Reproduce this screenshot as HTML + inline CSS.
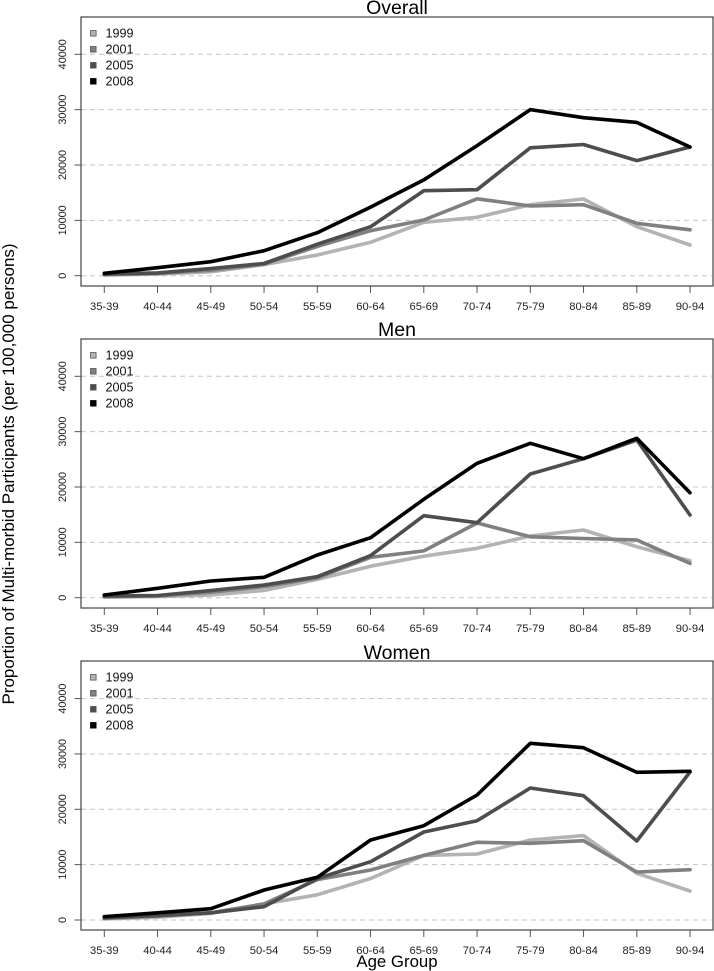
<!DOCTYPE html>
<html>
<head>
<meta charset="utf-8">
<style>
html,body{margin:0;padding:0;background:#fff;}
svg{display:block;}
text{font-family:"Liberation Sans",Arial,sans-serif;fill:#000;}
</style>
</head>
<body>
<svg width="714" height="971" viewBox="0 0 714 971" xmlns="http://www.w3.org/2000/svg">
<rect width="714" height="971" fill="#fff"/>
<g id="plots"></g>
<text transform="translate(14,474) rotate(-90)" text-anchor="middle" font-size="17">Proportion of Multi-morbid Participants (per 100,000 persons)</text>
<text x="397" y="967" text-anchor="middle" font-size="16.8">Age Group</text>
</svg>
<script>
(function(){
var NS="http://www.w3.org/2000/svg";
var g=document.getElementById("plots");
function el(n,a,t){var e=document.createElementNS(NS,n);for(var k in a)e.setAttribute(k,a[k]);if(t!==undefined)e.textContent=t;g.appendChild(e);return e;}
var labels=["35-39","40-44","45-49","50-54","55-59","60-64","65-69","70-74","75-79","80-84","85-89","90-94"];
var colors=["#b3b3b3","#808080","#4d4d4d","#000000"];
var years=["1999","2001","2005","2008"];
var panels=[
 {title:"Overall",top:17,y0:275.7,tb:14,
  d:[[100,300,700,2000,3740,6030,9650,10550,12830,13860,8850,5550],
     [200,400,1000,2100,5300,8130,10060,13900,12600,12830,9470,8300],
     [300,500,1300,2200,5700,8850,15360,15540,23100,23700,20800,23250],
     [430,1450,2530,4520,7770,12400,17300,23500,30000,28550,27700,23250]]},
 {title:"Men",top:339,y0:597.7,tb:336,
  d:[[100,200,500,1300,3300,5700,7500,8920,11150,12230,9220,6690],
     [200,300,1000,2000,3600,7300,8450,13500,11000,10700,10420,6200],
     [300,400,1300,2300,3800,7600,14820,13550,22350,25110,28500,14940],
     [490,1700,3020,3680,7710,10840,17780,24280,27900,25110,28800,18970]]},
 {title:"Women",top:661,y0:920,tb:659,
  d:[[200,500,1200,2900,4550,7500,11680,11920,14450,15240,8430,5240],
     [300,700,1300,2900,7300,9030,11680,14040,13850,14330,8670,9090],
     [400,800,1300,2400,7500,10540,15900,17940,23850,22460,14270,26740],
     [600,1300,2040,5420,7710,14450,17040,22580,31920,31130,26680,26860]]}
];
var L=81,R=713,S=0.005535;
function X(i){return 104.3+53.25*i;}
panels.forEach(function(p){
  var bottom=p.top+269;
  // grid lines
  for(var v=0;v<=40000;v+=10000){
    var y=p.y0-v*S;
    el("line",{x1:L,x2:R,y1:y,y2:y,stroke:"#c4c4c4","stroke-width":1,"stroke-dasharray":"5,4"});
    el("line",{x1:74.5,x2:L,y1:y,y2:y,stroke:"#555","stroke-width":1});
    el("text",{transform:"translate(66,"+y+") rotate(-90)","text-anchor":"middle","font-size":"10.8",style:"fill:#222"},String(v));
  }
  // x ticks
  for(var i=0;i<12;i++){
    el("line",{x1:X(i),x2:X(i),y1:bottom,y2:bottom+7,stroke:"#555","stroke-width":1});
    el("text",{x:X(i),y:bottom+24,"text-anchor":"middle","font-size":"11.2",style:"fill:#222"},labels[i]);
  }
  // series
  for(var s=0;s<4;s++){
    var pts=p.d[s].map(function(v,i){return X(i).toFixed(1)+","+(p.y0-v*S).toFixed(1);}).join(" ");
    el("polyline",{points:pts,fill:"none",stroke:colors[s],"stroke-width":3.6,"stroke-linejoin":"round","stroke-linecap":"round"});
  }
  // box
  el("rect",{x:L,y:p.top,width:R-L,height:269,fill:"none",stroke:"#444","stroke-width":1.2});
  // title
  el("text",{x:397,y:p.tb,"text-anchor":"middle","font-size":"19.5"},p.title);
  // legend
  for(var s=0;s<4;s++){
    var cy=p.top+16.3+s*16;
    el("rect",{x:90.5,y:cy-2.8,width:5.6,height:5.6,fill:colors[s],stroke:s<3?"#555":"#000","stroke-width":0.8});
    el("text",{x:105.5,y:cy+4.4,"font-size":"12.6",style:"fill:#111"},years[s]);
  }
});
})();
</script>
</body>
</html>
